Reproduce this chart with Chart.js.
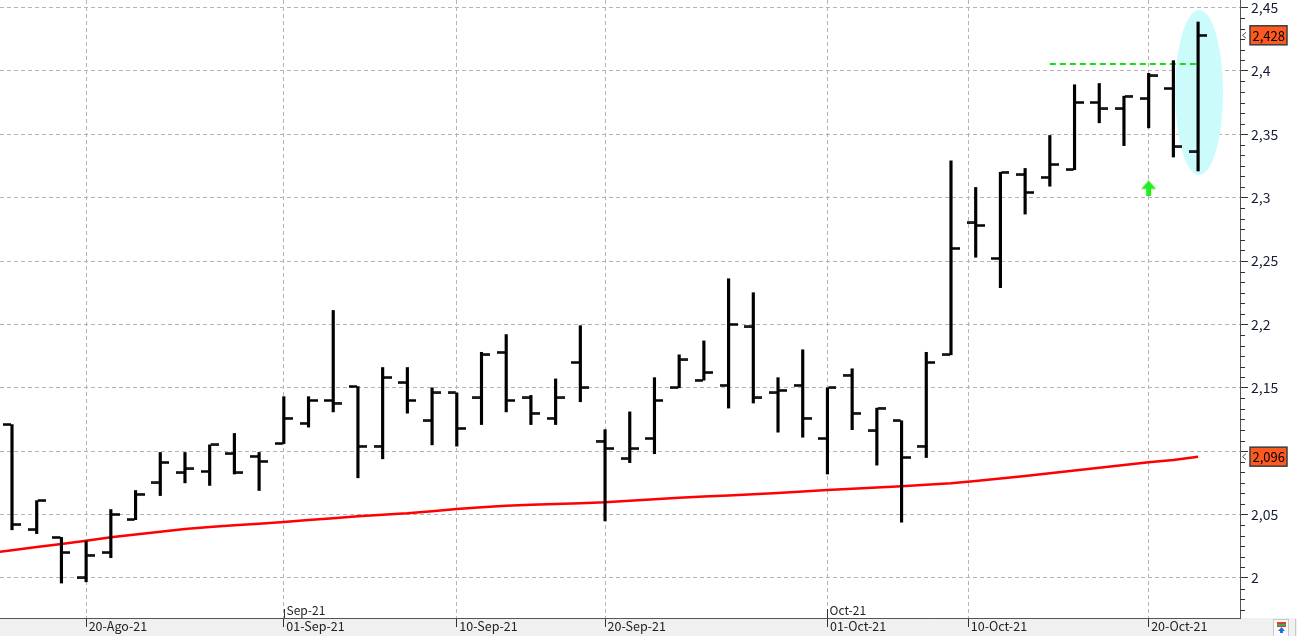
<!DOCTYPE html>
<html><head><meta charset="utf-8">
<script src="https://cdn.jsdelivr.net/npm/chart.js@4.4.0/dist/chart.umd.min.js"></script>
<style>html,body{margin:0;padding:0;background:#fff;overflow:hidden}#wrap{width:1297px;height:636px}</style>
</head><body><div id="wrap"><canvas id="c" width="1297" height="636"></canvas></div>
<script>
// ---- data ----
const dates = ['16-Aug-21','17-Aug-21','18-Aug-21','19-Aug-21','20-Aug-21','23-Aug-21','24-Aug-21','25-Aug-21','26-Aug-21','27-Aug-21','30-Aug-21','31-Aug-21',
 '01-Sep-21','02-Sep-21','03-Sep-21','06-Sep-21','07-Sep-21','08-Sep-21','09-Sep-21','10-Sep-21','13-Sep-21','14-Sep-21','15-Sep-21','16-Sep-21','17-Sep-21',
 '20-Sep-21','21-Sep-21','22-Sep-21','23-Sep-21','24-Sep-21','27-Sep-21','28-Sep-21','29-Sep-21','30-Sep-21',
 '01-Oct-21','04-Oct-21','05-Oct-21','06-Oct-21','07-Oct-21','08-Oct-21','11-Oct-21','12-Oct-21','13-Oct-21','14-Oct-21','15-Oct-21','18-Oct-21','19-Oct-21','20-Oct-21','21-Oct-21','22-Oct-21'];
const opens  = [null,2.121,2.038,2.032,2.000,2.020,2.046,2.075,2.083,2.084,2.098,2.096,2.106,2.122,2.140,2.151,2.104,2.154,2.124,2.146,2.142,2.178,2.142,2.126,2.170,2.108,2.094,2.110,2.150,2.156,2.152,2.198,2.146,2.152,2.110,2.160,2.116,2.124,2.104,2.176,2.280,2.252,2.318,2.316,2.322,2.375,2.370,2.378,2.386,2.336];
const highs  = [null,2.121,2.061,2.032,2.029,2.054,2.069,2.099,2.099,2.105,2.114,2.099,2.143,2.143,2.211,2.151,2.166,2.166,2.150,2.146,2.178,2.192,2.144,2.157,2.199,2.117,2.131,2.158,2.176,2.187,2.236,2.225,2.158,2.180,2.150,2.165,2.134,2.124,2.178,2.329,2.308,2.320,2.323,2.349,2.389,2.390,2.380,2.398,2.408,2.4385];
const lows   = [null,2.038,2.035,1.996,1.997,2.016,2.046,2.065,2.075,2.073,2.082,2.069,2.106,2.119,2.131,2.079,2.094,2.130,2.105,2.104,2.121,2.131,2.121,2.121,2.139,2.045,2.091,2.098,2.150,2.156,2.134,2.138,2.115,2.111,2.082,2.117,2.089,2.044,2.095,2.176,2.253,2.229,2.287,2.309,2.322,2.359,2.341,2.355,2.332,2.321];
const closes = [null,2.042,2.061,2.020,2.018,2.050,2.066,2.091,2.086,2.105,2.083,2.092,2.126,2.140,2.138,2.104,2.158,2.140,2.146,2.118,2.176,2.140,2.130,2.142,2.150,2.102,2.102,2.140,2.172,2.162,2.200,2.142,2.148,2.126,2.150,2.130,2.134,2.095,2.170,2.260,2.278,2.320,2.304,2.326,2.375,2.370,2.380,2.396,2.340,2.428];
const movingAvg = [2.0195,2.0219,2.0244,2.0268,2.0294,2.0321,2.0343,2.0364,2.0386,2.0403,2.0416,2.0428,2.0442,2.0457,2.0472,2.0487,2.0498,2.0510,2.0527,2.0544,2.0557,2.0569,2.0577,2.0584,2.0590,2.0597,2.0609,2.0621,2.0633,2.0643,2.0651,2.0661,2.0671,2.0683,2.0694,2.0703,2.0714,2.0723,2.0736,2.0748,2.0765,2.0785,2.0804,2.0826,2.0847,2.0870,2.0891,2.0912,2.0931,2.0957];
const resistanceLevel = 2.4054;
const resistanceFrom = 43, resistanceTo = 49;
const signalArrow = {x: 47, y: 2.3072};
const highlight = {x: 49.04, dx: 0.97, yLow: 2.3178, yHigh: 2.4479};
const xTickPos = [4, 12, 19, 25, 34, 39.7, 47];
const xTickLabels = ['20-Ago-21','01-Sep-21','10-Sep-21','20-Sep-21','01-Oct-21','10-Oct-21','20-Oct-21'];
const monthPos = [12, 34];
const monthLabels = ['Sep-21','Oct-21'];
const yTickVals = [2, 2.05, 2.1, 2.15, 2.2, 2.25, 2.3, 2.35, 2.4, 2.45];

// ---- helpers ----
const FONT = "'Noto Sans CJK JP', 'Noto Sans', sans-serif";
function fmt(v, d){ return (d===undefined? String(Math.round(v*100)/100) : v.toFixed(d)).replace('.', ','); }
function mk(w,h,draw){ const c=document.createElement('canvas'); c.width=w; c.height=h; draw(c.getContext('2d')); return c; }
const openImg = mk(18,3,g=>{g.fillStyle='#000';g.fillRect(0,0.25,8,2.5);});
const closeImg = mk(18,3,g=>{g.fillStyle='#000';g.fillRect(10,0.25,8,2.5);});
const arrowImg = mk(15,16,g=>{g.fillStyle='#22ee22';g.beginPath();g.moveTo(7.5,0);g.lineTo(0,8.5);g.lineTo(15,8.5);g.closePath();g.fill();g.fillRect(5,8,5,8);});

const idx = dates.map((d,i)=>i);
const hlData = idx.filter(i=>highs[i]!=null).map(i=>({x:i, y:[lows[i], highs[i]]}));
const openData = idx.filter(i=>opens[i]!=null).map(i=>({x:i, y:opens[i]}));
const closeData = idx.filter(i=>closes[i]!=null).map(i=>({x:i, y:closes[i]}));
const maData = movingAvg.map((v,i)=>({x:i, y:v}));

function noPad(s){ s.paddingTop=0; s.paddingBottom=0; s.paddingLeft=0; s.paddingRight=0; }

const plugins = [{
  id:'bg',
  beforeDraw(chart){
    const {ctx, width, height, chartArea:a} = chart;
    ctx.save();
    ctx.fillStyle='#fff'; ctx.fillRect(0,0,width,height);
    ctx.fillStyle='#f0f0f0'; ctx.fillRect(0,a.bottom,width,height-a.bottom);
    ctx.restore();
  },
  beforeDatasetsDraw(chart){
    const {ctx, scales:{x,y}} = chart;
    const cx = x.getPixelForValue(highlight.x);
    const rx = x.getPixelForValue(highlight.x+highlight.dx)-cx;
    const top = y.getPixelForValue(highlight.yHigh), bot = y.getPixelForValue(highlight.yLow);
    ctx.save();
    ctx.fillStyle='#ccfbfb';
    ctx.beginPath(); ctx.ellipse(cx,(top+bot)/2,rx,(bot-top)/2,0,0,Math.PI*2); ctx.fill();
    ctx.restore();
  },
  afterDraw(chart){
    const {ctx, scales:{x,y}, chartArea:a} = chart;
    ctx.save();
    ctx.strokeStyle='#333'; ctx.lineWidth=1;
    const step = 0.05/6;
    for(let k=Math.ceil(y.min/step); k<=Math.floor(y.max/step); k++){
      if(k%6===0) continue;
      const py = Math.round(y.getPixelForValue(k*step))+0.5;
      ctx.beginPath(); ctx.moveTo(a.right,py); ctx.lineTo(a.right+5,py); ctx.stroke();
    }
    ctx.font = "12px "+FONT; ctx.fillStyle='#222'; ctx.textBaseline='alphabetic'; ctx.textAlign='left';
    monthPos.forEach((p,i)=>{
      const px = Math.round(x.getPixelForValue(p))+0.5;
      ctx.beginPath(); ctx.moveTo(px,a.bottom-9); ctx.lineTo(px,a.bottom); ctx.stroke();
      ctx.fillText(monthLabels[i], px+2, a.bottom-3);
    });
    const boxes = [[closes[closes.length-1], fmt(closes[closes.length-1],3)], [movingAvg[movingAvg.length-1], fmt(movingAvg[movingAvg.length-1],3)]];
    boxes.forEach(([v,t])=>{
      const py = y.getPixelForValue(v);
      ctx.fillStyle='#fd5a1f'; ctx.fillRect(a.right+10, py-9.5, 37, 19);
      ctx.strokeStyle='#3c3c3c'; ctx.lineWidth=1.5; ctx.strokeRect(a.right+10, py-9.5, 37, 19);
      ctx.fillStyle='#000'; ctx.font="13px "+FONT; ctx.textBaseline='middle';
      ctx.fillText(t, a.right+12.5, py+0.5);
      ctx.strokeStyle='#555'; ctx.lineWidth=1;
      ctx.beginPath(); ctx.moveTo(a.right+6,py-3); ctx.lineTo(a.right+2.5,py); ctx.lineTo(a.right+6,py+3); ctx.stroke();
    });
    ctx.fillStyle='#fafafa'; ctx.fillRect(1273,619,16,17);
    ctx.strokeStyle='#c8c8c8'; ctx.strokeRect(1273.5,619.5,15,17);
    ctx.fillStyle='#d84030'; ctx.fillRect(1277,622,9,2);
    ctx.fillStyle='#50a050'; ctx.fillRect(1277,624,9,2);
    ctx.fillStyle='#d84030'; ctx.fillRect(1277,626,9,1);
    ctx.fillStyle='#1e6ee0'; ctx.beginPath(); ctx.moveTo(1281.5,627); ctx.lineTo(1278,631); ctx.lineTo(1285,631); ctx.closePath(); ctx.fill();
    ctx.fillRect(1280,630,3,3);
    ctx.strokeStyle='#c8c8c8'; ctx.beginPath(); ctx.moveTo(1295.5,619); ctx.lineTo(1295.5,636); ctx.stroke();
    ctx.restore();
  }
}];

Chart.defaults.font.family = FONT;
new Chart(document.getElementById('c'), {
  type:'bar',
  data:{ datasets:[
    {type:'scatter', data:openData, pointStyle:openImg, pointRadius:9, order:0},
    {type:'scatter', data:closeData, pointStyle:closeImg, pointRadius:9, order:0},
    {type:'bar', data:hlData, backgroundColor:'#000', borderWidth:0, barThickness:2.5, order:0},
    {type:'scatter', data:[signalArrow], pointStyle:arrowImg, pointRadius:8, order:1},
    {type:'line', data:[{x:resistanceFrom,y:resistanceLevel},{x:resistanceTo,y:resistanceLevel}], borderColor:'#11e011', borderWidth:2, borderDash:[6,4], pointRadius:0, order:1},
    {type:'line', data:maData, borderColor:'#ff0000', borderWidth:2.5, pointRadius:0, tension:0, order:2}
  ]},
  options:{
    responsive:false, animation:false, devicePixelRatio:1,
    layout:{padding:0, autoPadding:false},
    plugins:{legend:{display:false}, tooltip:{enabled:false}},
    scales:{
      x:{
        type:'linear', position:'bottom', min:0.5144, max:50.696, offset:false,
        afterBuildTicks(s){ s.ticks = xTickPos.map(v=>({value:v})); },
        afterFit(s){ s.height = 18; noPad(s); },
        grid:{offset:false, color:'#b4b4b4', lineWidth:1, tickLength:9, tickColor:'#333', tickBorderDash:[], drawTicks:true},
        border:{display:true, color:'#555', width:1, dash:[4,3]},
        ticks:{autoSkip:false, maxRotation:0, minRotation:0, align:'start', labelOffset:2.5, padding:-8,
               color:'#222', font:{size:12.5, family:FONT},
               callback:(v,i)=>xTickLabels[i]}
      },
      y:{
        type:'linear', position:'right', min:1.96845, max:2.45584,
        afterBuildTicks(s){ s.ticks = yTickVals.map(v=>({value:v})); },
        afterFit(s){ s.width = 57; noPad(s); },
        grid:{color:'#b4b4b4', lineWidth:1, tickLength:8, tickColor:'#333', tickBorderDash:[], drawTicks:true},
        border:{display:true, color:'#555', width:1, dash:[4,3]},
        ticks:{padding:3, color:'#141c36', font:{size:14, family:FONT}, callback:v=>fmt(v)}
      }
    }
  },
  plugins
});
</script></body></html>
